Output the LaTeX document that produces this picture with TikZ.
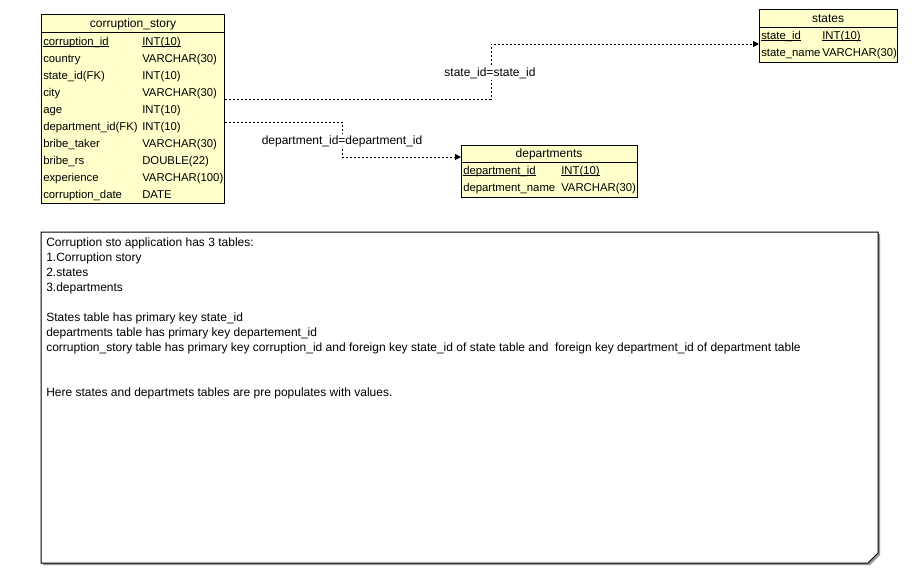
\documentclass[tikz,border=0pt]{standalone}
\usepackage{fontspec}
\setmainfont{Liberation Sans}
\usetikzlibrary{arrows.meta}
\definecolor{tbl}{HTML}{FFFFCC}
\tikzset{
  tablebox/.style={draw=black, line width=0.75pt, fill=tbl, inner sep=0pt, anchor=north west},
  fld/.style={anchor=base west, inner sep=0pt, font=\fontsize{8.5}{10.2}\selectfont},
  hdr/.style={anchor=base, inner sep=0pt, font=\fontsize{9}{10.8}\selectfont},
  rel/.style={line width=0.75pt, dash pattern=on 1.5pt off 1.5pt, -{Triangle[length=4.5pt,width=4.5pt]}},
  rellabel/.style={fill=white, inner sep=1pt, anchor=base, font=\fontsize{9}{10.8}\selectfont},
  notetext/.style={anchor=north west, inner sep=0pt, align=left, font=\fontsize{9}{11.25}\selectfont}
}
\newcommand{\ul}[1]{\setbox0\hbox{#1}\rlap{\rule[-1.4pt]{\wd0}{0.6pt}}\box0}
\begin{document}
\begin{tikzpicture}[x=0.75pt,y=-0.75pt]
\useasboundingbox (0,0) rectangle (920,582);
% corruption_story
\node[tablebox, minimum width={183*0.75pt}, minimum height={189*0.75pt}] (cs) at (41,14) {};
\draw[line width=0.75pt] (41,32) -- (224,32);
\node[hdr] (csh) at (133,27) {corruption\_story};
\foreach \n/\t/\i [count=\k] in {{\ul{corruption\_id}}/{\ul{INT(10)}}/0, country/VARCHAR(30)/1, state\_id(FK)/INT(10)/2, city/VARCHAR(30)/3, age/INT(10)/4, department\_id(FK)/INT(10)/5, bribe\_taker/VARCHAR(30)/6, bribe\_rs/DOUBLE(22)/7, experience/VARCHAR(100)/8, corruption\_date/DATE/9}{
  \node[fld] (csn\k) at (43,45+17*\i) {\n};
  \node[fld] (cst\k) at (142,45+17*\i) {\t};
}
% states
\node[tablebox, minimum width={138*0.75pt}, minimum height={53*0.75pt}] (st) at (759,9) {};
\draw[line width=0.75pt] (759,27) -- (897,27);
\node[hdr] (sth) at (828,22) {states};
\node[fld] (stn1) at (761,39) {\ul{state\_id}};
\node[fld] (stt1) at (822,39) {\ul{INT(10)}};
\node[fld] (stn2) at (761,56) {state\_name};
\node[fld] (stt2) at (822,56) {VARCHAR(30)};
% departments
\node[tablebox, minimum width={176*0.75pt}, minimum height={52*0.75pt}] (dp) at (461,145) {};
\draw[line width=0.75pt] (461,162) -- (637,162);
\node[hdr] (dph) at (549,157) {departments};
\node[fld] (dpn1) at (463,174) {\ul{department\_id}};
\node[fld] (dpt1) at (561,174) {\ul{INT(10)}};
\node[fld] (dpn2) at (463,191) {department\_name};
\node[fld] (dpt2) at (561,191) {VARCHAR(30)};
% relations
\draw[rel] (cs.east |- 0,99) -- (491,99) -- (491,44) -- (st.west |- 0,44);
\node[rellabel] (l1) at (490,76) {state\_id=state\_id};
\draw[rel] (cs.east |- 0,122) -- (342,122) -- (342,157) -- (dp.west |- 0,157);
\node[rellabel] (l2) at (342,144) {department\_id=department\_id};
% note
\fill[gray!80] (43,234) -- (880,234) -- (880,555) -- (870,565) -- (43,565) -- cycle;
\draw[line width=0.75pt, fill=white] (41,232) -- (878,232) -- (878,553) -- (868,563) -- (41,563) -- cycle;
\node[notetext] (nt) at (46,238) {Corruption sto application has 3 tables:\\
1.Corruption story\\
2.states\\
3.departments\\
\strut\\
States table has primary key state\_id\\
departments table has primary key departement\_id\\
corruption\_story table has primary key corruption\_id and foreign key state\_id of state table and \ foreign key department\_id of department table\\
\strut\\
\strut\\
Here states and departmets tables are pre populates with values.};
\end{tikzpicture}
\end{document}
